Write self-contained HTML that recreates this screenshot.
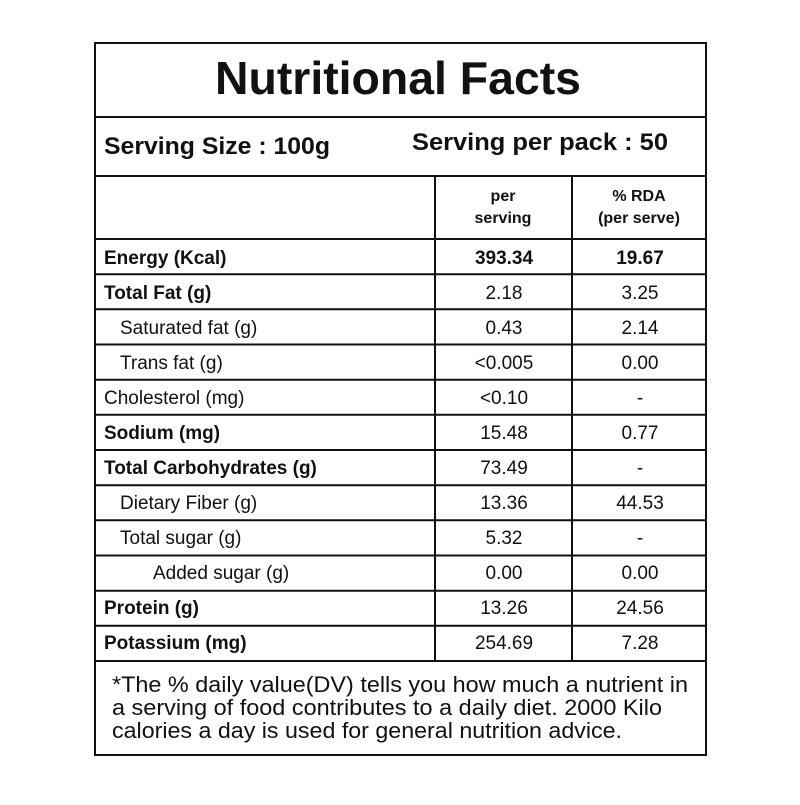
<!DOCTYPE html>
<html><head><meta charset="utf-8"><style>body{margin:0;background:#fff}</style></head><body>
<svg width="800" height="800" xmlns="http://www.w3.org/2000/svg" font-family="Liberation Sans, sans-serif" fill="#111">
<rect x="0" y="0" width="800" height="800" fill="#fff"/>
<g stroke="#111" stroke-width="2" fill="none">
<rect x="95" y="43" width="611" height="712"/>
<line x1="95" y1="117" x2="706" y2="117"/>
<line x1="95" y1="176" x2="706" y2="176"/>
<line x1="95" y1="239" x2="706" y2="239"/>
<line x1="95" y1="274.2" x2="706" y2="274.2"/>
<line x1="95" y1="309.3" x2="706" y2="309.3"/>
<line x1="95" y1="344.5" x2="706" y2="344.5"/>
<line x1="95" y1="379.7" x2="706" y2="379.7"/>
<line x1="95" y1="414.8" x2="706" y2="414.8"/>
<line x1="95" y1="450" x2="706" y2="450"/>
<line x1="95" y1="485.2" x2="706" y2="485.2"/>
<line x1="95" y1="520.3" x2="706" y2="520.3"/>
<line x1="95" y1="555.5" x2="706" y2="555.5"/>
<line x1="95" y1="590.7" x2="706" y2="590.7"/>
<line x1="95" y1="625.8" x2="706" y2="625.8"/>
<line x1="95" y1="661" x2="706" y2="661"/>
<line x1="435" y1="176" x2="435" y2="661"/>
<line x1="572" y1="176" x2="572" y2="661"/>
</g>
<text x="215" y="94" font-size="46" font-weight="bold" textLength="366" lengthAdjust="spacingAndGlyphs">Nutritional Facts</text>
<text x="104" y="154" font-size="24" font-weight="bold" textLength="226" lengthAdjust="spacingAndGlyphs">Serving Size : 100g</text>
<text x="412" y="150" font-size="24" font-weight="bold" textLength="256" lengthAdjust="spacingAndGlyphs">Serving per pack : 50</text>
<g font-size="16" font-weight="bold" text-anchor="middle">
<text x="503" y="201">per</text><text x="503" y="223">serving</text>
<text x="639" y="201">% RDA</text><text x="639" y="223">(per serve)</text>
</g>
<g font-size="19">
<text x="104" y="264" font-weight="bold">Energy (Kcal)</text>
<text x="104" y="299" font-weight="bold">Total Fat (g)</text>
<text x="120" y="334">Saturated fat (g)</text>
<text x="120" y="369">Trans fat (g)</text>
<text x="104" y="404">Cholesterol (mg)</text>
<text x="104" y="439" font-weight="bold">Sodium (mg)</text>
<text x="104" y="474" font-weight="bold">Total Carbohydrates (g)</text>
<text x="120" y="509">Dietary Fiber (g)</text>
<text x="120" y="544">Total sugar (g)</text>
<text x="153" y="579">Added sugar (g)</text>
<text x="104" y="614" font-weight="bold">Protein (g)</text>
<text x="104" y="649" font-weight="bold">Potassium (mg)</text>
</g>
<g font-size="19" text-anchor="middle">
<text x="504" y="264" font-weight="bold">393.34</text><text x="640" y="264" font-weight="bold">19.67</text>
<text x="504" y="299">2.18</text><text x="640" y="299">3.25</text>
<text x="504" y="334">0.43</text><text x="640" y="334">2.14</text>
<text x="504" y="369">&lt;0.005</text><text x="640" y="369">0.00</text>
<text x="504" y="404">&lt;0.10</text><text x="640" y="404">-</text>
<text x="504" y="439">15.48</text><text x="640" y="439">0.77</text>
<text x="504" y="474">73.49</text><text x="640" y="474">-</text>
<text x="504" y="509">13.36</text><text x="640" y="509">44.53</text>
<text x="504" y="544">5.32</text><text x="640" y="544">-</text>
<text x="504" y="579">0.00</text><text x="640" y="579">0.00</text>
<text x="504" y="614">13.26</text><text x="640" y="614">24.56</text>
<text x="504" y="649">254.69</text><text x="640" y="649">7.28</text>
</g>
<g font-size="22">
<text x="112" y="692" textLength="576" lengthAdjust="spacingAndGlyphs">*The % daily value(DV) tells you how much a nutrient in</text>
<text x="112" y="715" textLength="550" lengthAdjust="spacingAndGlyphs">a serving of food contributes to a daily diet. 2000 Kilo</text>
<text x="112" y="738" textLength="510" lengthAdjust="spacingAndGlyphs">calories a day is used for general nutrition advice.</text>
</g>
</svg>
</body></html>
